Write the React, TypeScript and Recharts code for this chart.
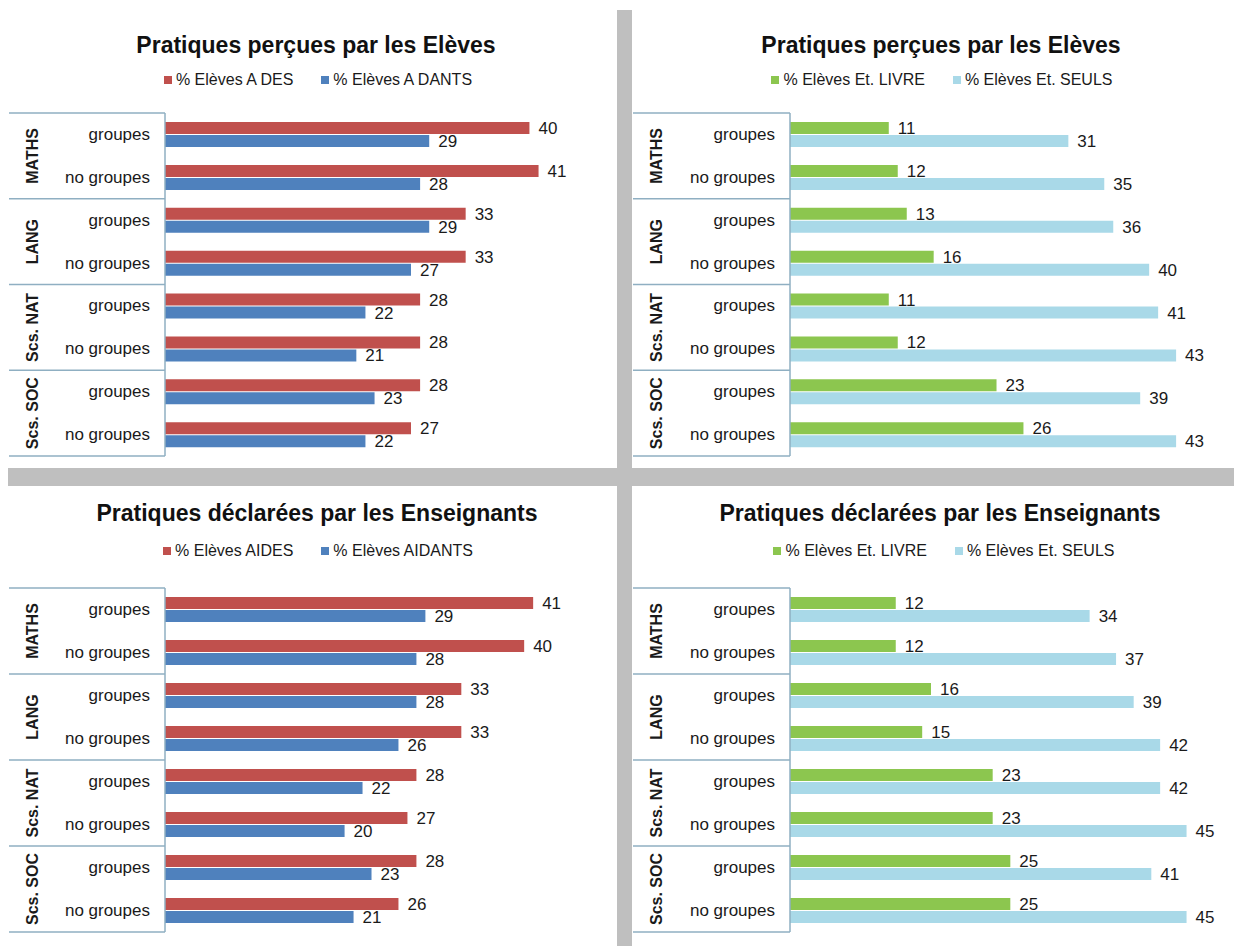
import React from 'react';
import { BarChart, Bar, XAxis, YAxis, LabelList } from 'recharts';

// ---- data ----
const subjects = ['MATHS', 'LANG', 'Scs. NAT', 'Scs. SOC'];
const subGroups = ['groupes', 'no groupes'];

const elevesAides = [40, 41, 33, 33, 28, 28, 28, 27];
const elevesAidants = [29, 28, 29, 27, 22, 21, 23, 22];
const elevesLivre = [11, 12, 13, 16, 11, 12, 23, 26];
const elevesSeuls = [31, 35, 36, 40, 41, 43, 39, 43];
const ensAides = [41, 40, 33, 33, 28, 27, 28, 26];
const ensAidants = [29, 28, 28, 26, 22, 20, 23, 21];
const ensLivre = [12, 12, 16, 15, 23, 23, 25, 25];
const ensSeuls = [34, 37, 39, 42, 42, 45, 41, 45];

const titleEleves = 'Pratiques perçues par les Elèves';
const titleEns = 'Pratiques déclarées par les Enseignants';

const namesAidesTop = ['% Elèves A DES', '% Elèves A DANTS'];
const namesAidesBottom = ['% Elèves AIDES', '% Elèves AIDANTS'];
const namesEtude = ['% Elèves Et. LIVRE', '% Elèves Et. SEULS'];

const RED = '#C0504D';
const BLUE = '#4F81BD';
const GREEN = '#8CC64F';
const LIGHTBLUE = '#A9D9E8';
const BOX = '#8FAFC2';
const SEP = '#BFBFBF';
const TEXT = '#1a1a1a';
const FONT = "'Liberation Sans', Arial, Helvetica, sans-serif";

const rowIds: string[] = [];
subjects.forEach((s) => subGroups.forEach((g) => rowIds.push(`${s}|${g}`)));

const buildData = (a: number[], b: number[]) =>
  rowIds.map((id, i) => ({ id, a: a[i], b: b[i] }));

function makeTick(boxW: number, n: number) {
  return (props: any) => {
    const { x, y, payload, index } = props;
    const [subject, sub] = String(payload.value).split('|');
    const half = payload && payload.offset ? payload.offset : 21.5;
    const left = x - boxW;
    return (
      <g>
        <text
          x={x - 15}
          y={y}
          textAnchor="end"
          dominantBaseline="central"
          fontSize={17}
          fill={TEXT}
          fontFamily={FONT}
        >
          {sub}
        </text>
        {index % 2 === 0 && (
          <g>
            <line x1={left} x2={x} y1={y - half} y2={y - half} stroke={BOX} strokeWidth={1.5} />
            <text
              transform={`translate(${left + 23}, ${y + half}) rotate(-90)`}
              textAnchor="middle"
              dominantBaseline="central"
              fontSize={16}
              fontWeight="bold"
              fill={TEXT}
              fontFamily={FONT}
            >
              {subject}
            </text>
          </g>
        )}
        {index === n - 1 && (
          <line x1={left} x2={x} y1={y + half} y2={y + half} stroke={BOX} strokeWidth={1.5} />
        )}
      </g>
    );
  };
}

type PanelProps = {
  left: number;
  top: number;
  width: number;
  height: number;
  margin: { top: number; right: number; bottom: number; left: number };
  axisW: number;
  domainMax: number;
  data: { id: string; a: number; b: number }[];
  colors: string[];
  names: string[];
};

function Panel(p: PanelProps) {
  return (
    <div style={{ position: 'absolute', left: p.left, top: p.top, width: p.width, height: p.height }}>
      <BarChart
        width={p.width}
        height={p.height}
        data={p.data}
        layout="vertical"
        margin={p.margin}
        barGap={1}
      >
        <XAxis type="number" domain={[0, p.domainMax]} hide />
        <YAxis
          type="category"
          dataKey="id"
          width={p.axisW}
          interval={0}
          tickLine={false}
          tickSize={0}
          tickMargin={0}
          axisLine={{ stroke: BOX, strokeWidth: 1.5 }}
          tick={makeTick(p.axisW, p.data.length)}
        />
        <Bar dataKey="a" name={p.names[0]} fill={p.colors[0]} barSize={12} isAnimationActive={false}>
          <LabelList dataKey="a" position="right" offset={9} fontSize={17} fill={TEXT} />
        </Bar>
        <Bar dataKey="b" name={p.names[1]} fill={p.colors[1]} barSize={12} isAnimationActive={false}>
          <LabelList dataKey="b" position="right" offset={9} fontSize={17} fill={TEXT} />
        </Bar>
      </BarChart>
    </div>
  );
}

function Title({ cx, cy, text }: { cx: number; cy: number; text: string }) {
  return (
    <div
      style={{
        position: 'absolute',
        left: cx - 320,
        width: 640,
        top: cy - 15,
        height: 30,
        lineHeight: '30px',
        textAlign: 'center',
        fontSize: 23,
        fontWeight: 'bold',
        color: '#111',
        whiteSpace: 'nowrap',
      }}
    >
      {text}
    </div>
  );
}

function LegendRow({ cx, cy, names, colors }: { cx: number; cy: number; names: string[]; colors: string[] }) {
  return (
    <div
      style={{
        position: 'absolute',
        left: cx - 320,
        width: 640,
        top: cy - 11,
        height: 22,
        display: 'flex',
        justifyContent: 'center',
        alignItems: 'center',
        gap: 28,
        fontSize: 16,
        color: TEXT,
        whiteSpace: 'nowrap',
      }}
    >
      {names.map((n, i) => (
        <div key={n} style={{ display: 'flex', alignItems: 'center' }}>
          <span style={{ display: 'inline-block', width: 8, height: 8, background: colors[i], marginRight: 4 }} />
          <span>{n}</span>
        </div>
      ))}
    </div>
  );
}

export default function App() {
  return (
    <div
      style={{
        position: 'absolute',
        left: 0,
        top: 0,
        width: 1234,
        height: 946,
        background: '#fff',
        fontFamily: FONT,
        overflow: 'hidden',
      }}
    >
      {/* separators */}
      <div style={{ position: 'absolute', left: 617, top: 10, width: 15, height: 936, background: SEP }} />
      <div style={{ position: 'absolute', left: 8, top: 468, width: 1226, height: 18, background: SEP }} />

      <Title cx={316} cy={45} text={titleEleves} />
      <LegendRow cx={318} cy={80} names={namesAidesTop} colors={[RED, BLUE]} />
      <Panel
        left={0}
        top={0}
        width={615}
        height={470}
        margin={{ top: 113, right: 40, bottom: 14, left: 9 }}
        axisW={156}
        domainMax={45}
        data={buildData(elevesAides, elevesAidants)}
        colors={[RED, BLUE]}
        names={namesAidesTop}
      />

      <Title cx={941} cy={45} text={titleEleves} />
      <LegendRow cx={942} cy={80} names={namesEtude} colors={[GREEN, LIGHTBLUE]} />
      <Panel
        left={624}
        top={0}
        width={610}
        height={470}
        margin={{ top: 113, right: 13, bottom: 14, left: 9 }}
        axisW={157}
        domainMax={48}
        data={buildData(elevesLivre, elevesSeuls)}
        colors={[GREEN, LIGHTBLUE]}
        names={namesEtude}
      />

      <Title cx={317} cy={513} text={titleEns} />
      <LegendRow cx={318} cy={551} names={namesAidesBottom} colors={[RED, BLUE]} />
      <Panel
        left={0}
        top={475}
        width={615}
        height={471}
        margin={{ top: 113, right: 19, bottom: 14, left: 9 }}
        axisW={156}
        domainMax={48}
        data={buildData(ensAides, ensAidants)}
        colors={[RED, BLUE]}
        names={namesAidesBottom}
      />

      <Title cx={940} cy={513} text={titleEns} />
      <LegendRow cx={944} cy={551} names={namesEtude} colors={[GREEN, LIGHTBLUE]} />
      <Panel
        left={624}
        top={475}
        width={610}
        height={471}
        margin={{ top: 113, right: 21, bottom: 14, left: 9 }}
        axisW={157}
        domainMax={48}
        data={buildData(ensLivre, ensSeuls)}
        colors={[GREEN, LIGHTBLUE]}
        names={namesEtude}
      />
    </div>
  );
}
